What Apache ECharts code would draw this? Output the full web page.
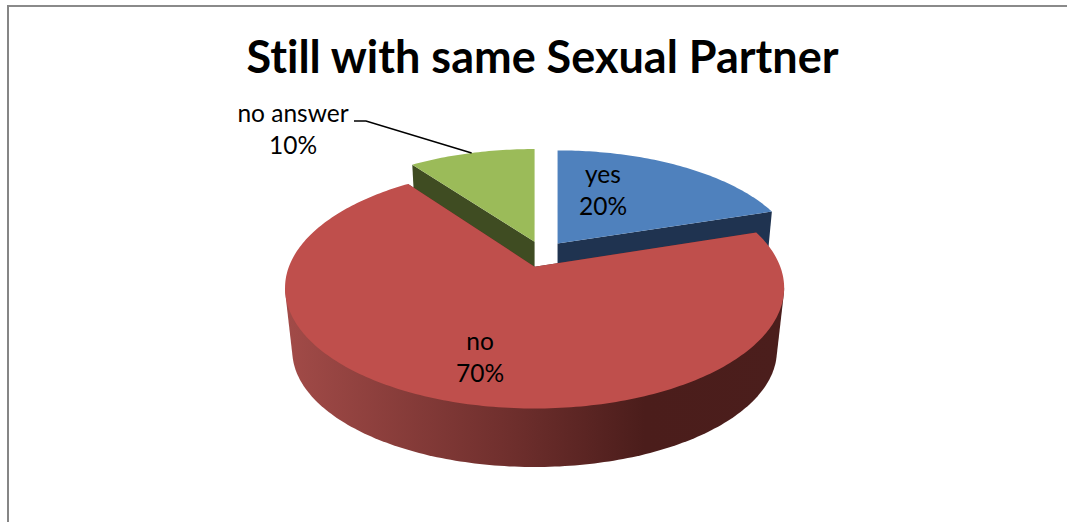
<!DOCTYPE html>
<html>
<head>
<meta charset="utf-8">
<style>html,body{margin:0;padding:0;background:#fff}#c{width:1067px;height:522px}text{font-variant-ligatures:none}</style>
<script src="https://cdn.jsdelivr.net/npm/echarts@6/dist/echarts.min.js"></script>
</head>
<body>
<div id="c"></div>
<script>
const chartTitle = 'Still with same Sexual Partner';
const categories = ['yes', 'no', 'no answer'];
const seriesValues = [20, 70, 10];
const topColors = ['#4f81bd', '#bf4f4c', '#9bbb59'];
const wallColors = ['#1f3350', '#5c2624', '#3f4c22'];

// perspective model of the pie
const centerX = 542.5, explodeXpx = 25.6, explodeY = 0.1167, step = Math.PI / 180;
const topPlane = {a: 241, b: 0.172, c: 112.5, cy: 254};
const basePlane = {a: 234, b: 0.172, c: 108.5, cy: 318};
// label placement in px (centre of the two text lines)
const labelAnchors = [[603, 189.5], [480, 356], [293, 128]];
const leaderStart = [[354, 121], [366, 121]];
const labelFont = '24.5px Lato';

const total = seriesValues.reduce((s, v) => s + v, 0);
function slice(i) {
  let before = 0;
  for (let k = 0; k < i; k++) before += seriesValues[k];
  const a0 = before / total * 2 * Math.PI;
  const a1 = (before + seriesValues[i]) / total * 2 * Math.PI;
  const mid = (a0 + a1) / 2;
  return {a0, a1, mid, shift: Math.sin(mid) * explodeXpx, oy: Math.cos(mid) * explodeY};
}
function rim(s, a, p, r) {
  const R = r === undefined ? 1 : r;
  const Y = s.oy + R * Math.cos(a);
  const d = 1 + p.b * Y;
  return [centerX + s.shift + p.a * R * Math.sin(a) / d, p.cy - p.c * Y / d];
}
function arc(s, from, to, p) {
  const pts = [];
  const n = Math.ceil(Math.abs(to - from) / step);
  for (let k = 0; k <= n; k++) pts.push(rim(s, from + (to - from) * k / n, p));
  return pts;
}
function visiblePart(pts) {
  let lo = 0, hi = 0;
  pts.forEach((q, k) => { if (q[0] > pts[hi][0]) hi = k; if (q[0] < pts[lo][0]) lo = k; });
  return pts.slice(Math.min(lo, hi), Math.max(lo, hi) + 1);
}
function hull(points) {
  const pts = points.slice().sort((u, v) => u[0] - v[0] || u[1] - v[1]);
  const cross = (o, u, v) => (u[0] - o[0]) * (v[1] - o[1]) - (u[1] - o[1]) * (v[0] - o[0]);
  const half = list => {
    const out = [];
    list.forEach(q => {
      while (out.length > 1 && cross(out[out.length - 2], out[out.length - 1], q) <= 0) out.pop();
      out.push(q);
    });
    out.pop();
    return out;
  };
  return half(pts).concat(half(pts.slice().reverse()));
}
function poly(points, fill, z2) {
  return {type: 'polygon', shape: {points}, style: {fill, stroke: null}, z2, silent: true};
}
function renderItem(params) {
  const i = params.dataIndex;
  const s = slice(i);
  const front = Math.cos(s.mid) <= 0;
  const layer = front ? 10 : 0;
  const apexT = rim(s, 0, topPlane, 0);
  const apexB = rim(s, 0, basePlane, 0);
  const kids = [];
  // flat cut walls
  [s.a0, s.a1].forEach(a => {
    kids.push(poly([apexT, rim(s, a, topPlane), rim(s, a, basePlane), apexB], wallColors[i], layer + 1));
  });
  const up = arc(s, s.a0, s.a1, topPlane);
  // curved outer wall: silhouette between the two rims
  if (front) {
    const low = arc(s, s.a0, s.a1, basePlane);
    const wallFill = new echarts.graphic.LinearGradient(0, 0, 1, 0, [
      {offset: 0, color: '#a24b48'}, {offset: 0.45, color: '#6f2f2d'},
      {offset: 0.72, color: '#4b1d1b'}, {offset: 1, color: '#4b1e1c'}]);
    kids.push(poly(hull(visiblePart(up).concat(visiblePart(low))), wallFill, layer + 2));
  }
  // top face
  kids.push(poly([apexT].concat(up), topColors[i], layer + 3));
  // label
  const [lx, ly] = labelAnchors[i];
  kids.push({type: 'text', z2: 30, silent: true, style: {
    x: lx, y: ly, text: categories[i] + '\n' + seriesValues[i] + '%',
    align: 'center', verticalAlign: 'middle', font: labelFont, lineHeight: 32, fill: '#000'
  }});
  // leader line for the outside label
  if (i === 2) {
    kids.push({type: 'polyline', z2: 30, silent: true,
      shape: {points: leaderStart.concat([rim(s, s.mid, topPlane)])},
      style: {stroke: '#000', lineWidth: 1.5, fill: null}});
  }
  return {type: 'group', children: kids};
}
const chart = echarts.init(document.getElementById('c'), null, {renderer: 'svg'});
chart.setOption({
  animation: false,
  backgroundColor: '#ffffff',
  title: {
    text: chartTitle, left: 537.5, top: 28, textAlign: 'center',
    textStyle: {fontFamily: 'Lato', fontWeight: 'bold', fontSize: 45, color: '#000'}
  },
  graphic: [
    {type: 'rect', shape: {x: 7, y: 5, width: 1060, height: 2}, style: {fill: '#8a8a8a'}},
    {type: 'rect', shape: {x: 7, y: 5, width: 2, height: 517}, style: {fill: '#868686'}}
  ],
  series: [{
    type: 'custom', coordinateSystem: 'none',
    data: seriesValues.map((v, i) => ({name: categories[i], value: v})),
    renderItem
  }]
});
</script>
</body>
</html>
